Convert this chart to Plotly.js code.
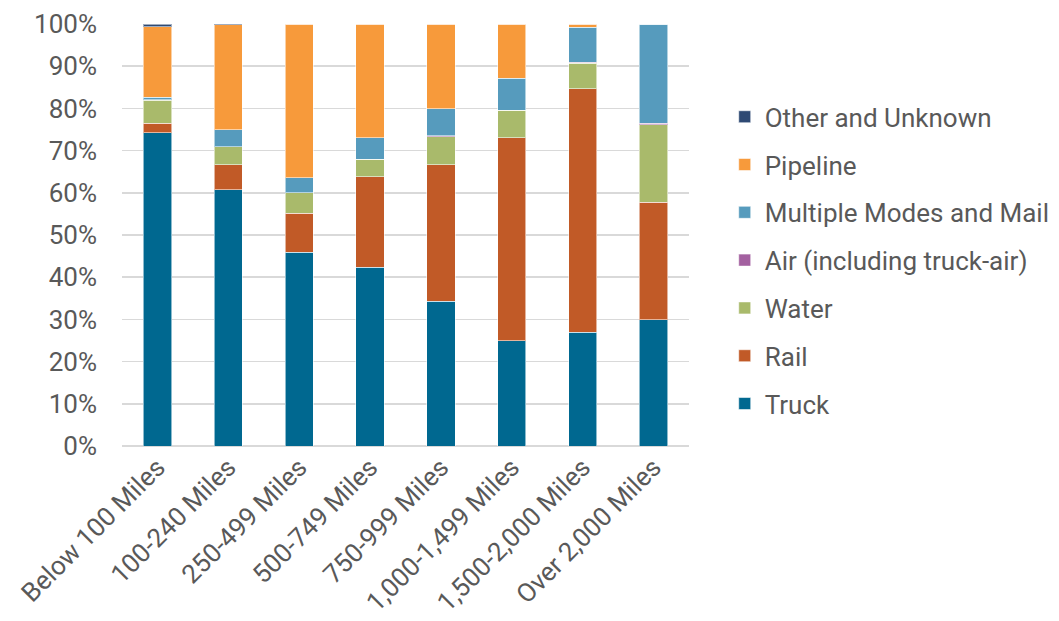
<!DOCTYPE html>
<html><head><meta charset="utf-8">
<script src="https://cdn.plot.ly/plotly-3.0.1.min.js"></script>
<style>html,body{margin:0;padding:0;background:#fff;}#chart{width:1059px;height:621px;}</style>
</head><body><div id="chart"></div>
<script>
const categories = ["Below 100 Miles","100-240 Miles","250-499 Miles","500-749 Miles","750-999 Miles","1,000-1,499 Miles","1,500-2,000 Miles","Over 2,000 Miles"];
const truck    = [74.2, 60.7, 45.9, 42.3, 34.3, 24.9, 27.0, 29.9];
const rail     = [2.3, 5.9, 9.2, 21.5, 32.4, 48.2, 57.7, 27.9];
const water    = [5.4, 4.3, 4.9, 4.1, 6.6, 6.5, 6.0, 18.3];
const air      = [0.1, 0.0, 0.0, 0.0, 0.2, 0.0, 0.2, 0.4];
const multiple = [0.7, 4.1, 3.6, 5.1, 6.4, 7.5, 8.3, 23.5];
const pipeline = [16.6, 24.8, 36.4, 27.0, 20.1, 12.9, 0.8, 0.0];
const other    = [0.7, 0.2, 0.0, 0.0, 0.0, 0.0, 0.0, 0.0];
const seriesNames = ["Truck","Rail","Water","Air (including truck-air)","Multiple Modes and Mail","Pipeline","Other and Unknown"];
const seriesValues = [truck, rail, water, air, multiple, pipeline, other];
const seriesColors = ["#006890","#C15A27","#A9BA6B","#A360A0","#569BBD","#F79A3B","#2E4A74"];

const traces = seriesNames.map((n,i)=>({
  type:'bar', name:n, x:categories, y:seriesValues[i].map(v=>v/100),
  legendgroup:'g'+i, legendrank: 100 - i,
  marker:{color:seriesColors[i], line:{color:'rgba(255,255,255,0.55)', width:1}},
  hoverinfo:'name+y'
}));

const layout = {
  width:1059, height:621,
  margin:{l:121.5, r:369.5, t:24, b:175, autoexpand:false},
  barmode:'stack', bargap:0.6,
  paper_bgcolor:'#fff', plot_bgcolor:'#fff',
  font:{family:'Roboto, sans-serif', color:'#595959', size:26},
  xaxis:{type:'category', tickangle:-45, tickfont:{size:26, color:'#595959'}, showgrid:false, zeroline:false, showline:false, ticks:'', automargin:false},
  yaxis:{range:[0,1], tickformat:'.0%', dtick:0.1, tickfont:{size:26, color:'#595959'}, showgrid:true, gridcolor:'#d9d9d9', gridwidth:1.5, zeroline:true, zerolinecolor:'#d9d9d9', zerolinewidth:1.5, ticks:'', ticklabelstandoff:24, automargin:false, fixedrange:true},
  legend:{x:1.063, xanchor:'left', y:0.44, yanchor:'middle', traceorder:'grouped', tracegroupgap:11, font:{size:26, color:'#595959'}, itemwidth:30},
  showlegend:true
};
Plotly.newPlot('chart', traces, layout, {displayModeBar:false, staticPlot:true});
</script></body></html>
